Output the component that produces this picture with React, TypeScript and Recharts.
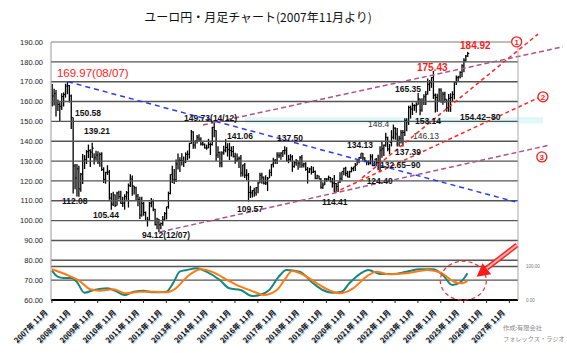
import {
  Bar,
  ComposedChart,
  Line,
  ReferenceArea,
  ReferenceDot,
  ReferenceLine,
  XAxis,
  YAxis,
} from "recharts";

// monthly bars, 2007-11 .. 2026-01
const HIGHS = [
  168.9, 166.5,
  165.8, 161.0, 159.6, 164.2, 164.6, 169.0, 169.97, 168.3, 163.5, 152.0, 128.5, 128.5,
  127.6, 124.0, 133.6, 133.0, 135.5, 138.3, 135.9, 139.21, 134.0, 135.2, 135.0, 134.3,
  134.4, 126.9, 124.6, 127.9, 125.5, 113.9, 114.6, 113.1, 114.5, 115.0, 115.0, 112.0,
  113.3, 114.9, 118.7, 123.3, 122.7, 117.6, 117.1, 113.4, 112.0, 112.0, 109.4, 104.6,
  101.9, 109.4, 111.4, 110.6, 106.0, 101.5, 100.8, 99.0, 102.3, 104.4, 107.0, 114.6,
  123.3, 127.7, 126.0, 130.8, 133.8, 131.9, 134.0, 132.3, 134.4, 135.3, 139.2, 145.7,
  145.0, 140.3, 143.2, 143.5, 142.0, 140.0, 138.9, 138.3, 141.2, 139.4, 147.3, 149.73,
  145.5, 137.5, 134.8, 134.9, 137.7, 141.06, 139.0, 139.2, 137.4, 137.6, 134.2, 133.8,
  132.3, 133.0, 128.2, 129.0, 125.9, 124.0, 117.5, 115.4, 116.5, 117.0, 119.6, 124.1,
  124.1, 122.2, 122.9, 122.0, 125.8, 128.5, 131.7, 131.1, 134.5, 134.4, 134.5, 135.5,
  137.5, 137.0, 133.1, 133.5, 133.0, 130.1, 131.1, 130.2, 132.5, 133.1, 129.2, 129.4,
  127.0, 126.6, 127.5, 127.2, 125.3, 123.1, 122.6, 121.5, 119.3, 121.5, 121.4, 122.7,
  122.0, 121.5, 123.0, 119.0, 119.5, 124.4, 124.8, 126.6, 127.1, 125.1, 125.1, 127.1,
  127.0, 129.0, 130.5, 132.0, 134.0, 134.13, 131.9, 130.3, 130.3, 133.5, 133.5, 130.1,
  131.6, 133.2, 137.5, 140.0, 138.3, 144.3, 142.3, 138.6, 145.6, 148.4, 147.1, 146.7,
  142.8, 145.6, 145.7, 151.6, 151.6, 157.9, 158.0, 159.5, 158.6, 159.7, 164.3, 161.5,
  161.6, 163.7, 165.35, 171.6, 170.8, 172.4, 175.43, 164.0, 163.9, 166.7, 166.7, 164.9,
  164.9, 161.2, 163.8, 164.2, 165.2, 169.8, 173.1, 173.0, 175.2, 178.8, 181.8, 183.5,
  184.92,
];
const LOWS = [
  157.5, 158.0,
  152.4, 155.2, 150.0, 155.7, 157.5, 162.0, 163.7, 159.5, 146.1, 113.6, 115.8, 112.1,
  112.08, 114.5, 118.5, 126.0, 128.5, 131.5, 127.0, 131.6, 128.3, 130.2, 128.5, 127.2,
  125.0, 119.0, 118.6, 123.0, 110.5, 105.44, 107.4, 106.9, 107.6, 110.7, 108.5, 106.8,
  105.5, 110.5, 106.6, 117.0, 112.5, 113.2, 110.1, 107.2, 100.8, 102.0, 102.5, 100.0,
  97.0, 100.0, 106.7, 104.7, 97.5, 95.6, 94.12, 95.7, 97.4, 100.0, 100.6, 106.0,
  113.2, 119.0, 118.5, 119.4, 125.7, 124.5, 127.8, 127.0, 129.0, 130.5, 131.3, 138.7,
  136.2, 136.2, 138.8, 139.6, 137.8, 137.7, 136.4, 135.7, 136.5, 133.1, 137.9, 142.0,
  130.1, 131.5, 126.9, 126.9, 133.2, 134.4, 132.3, 130.5, 132.3, 131.8, 128.7, 129.7,
  126.5, 122.1, 122.2, 121.5, 120.3, 109.57, 111.4, 111.6, 112.0, 112.5, 113.8, 118.9,
  118.6, 118.2, 117.9, 114.9, 121.4, 122.4, 126.8, 128.5, 128.5, 131.6, 130.7, 132.0,
  133.3, 129.9, 128.9, 129.7, 124.6, 126.6, 127.6, 125.6, 126.6, 126.6, 126.8, 125.1,
  118.7, 124.0, 123.2, 124.0, 120.8, 120.8, 120.8, 116.1, 115.9, 117.9, 119.6, 120.1,
  119.3, 116.6, 114.41, 114.4, 114.4, 119.0, 120.3, 122.9, 122.4, 121.8, 121.6, 124.3,
  124.9, 125.0, 127.9, 128.9, 131.0, 130.2, 129.4, 127.9, 127.9, 128.3, 127.4, 127.4,
  127.4, 125.4, 124.4, 131.7, 132.6, 137.2, 134.9, 133.4, 137.4, 140.9, 140.7, 137.39,
  137.4, 138.8, 137.4, 142.6, 145.0, 148.2, 151.4, 153.2, 155.3, 154.3, 158.4, 153.14,
  154.9, 158.2, 158.3, 163.5, 165.3, 166.9, 161.3, 154.42, 154.8, 159.9, 159.4, 158.4,
  159.4, 154.8, 154.8, 154.8, 159.9, 161.1, 168.3, 169.9, 171.6, 172.2, 174.8, 180.0,
  182.5,
];
const CLOSES = [
  162.8, 164.1,
  160.0, 158.5, 157.6, 162.5, 163.5, 167.8, 168.0, 162.8, 152.0, 127.5, 121.5, 126.1,
  116.0, 123.4, 130.0, 130.7, 134.7, 135.2, 134.5, 136.5, 131.7, 133.0, 129.7, 133.4,
  125.8, 120.8, 124.3, 124.4, 111.3, 108.3, 113.0, 107.5, 113.9, 112.2, 108.7, 108.8,
  112.1, 114.0, 117.6, 121.0, 117.5, 116.5, 112.4, 110.6, 102.8, 108.6, 104.1, 100.0,
  100.3, 108.8, 109.6, 105.7, 98.0, 100.8, 97.9, 98.6, 100.4, 103.5, 107.0, 113.7,
  123.3, 120.5, 120.6, 128.5, 130.2, 130.3, 130.3, 129.6, 133.4, 133.5, 138.9, 144.7,
  138.1, 140.3, 142.0, 141.1, 138.6, 138.5, 136.6, 136.6, 138.4, 138.3, 147.0, 145.3,
  133.1, 134.3, 129.0, 134.1, 135.5, 136.9, 135.7, 135.3, 134.8, 132.4, 130.3, 131.0,
  131.4, 124.0, 128.1, 122.9, 122.9, 114.2, 114.0, 115.2, 113.9, 116.6, 118.9, 122.9,
  121.9, 118.9, 119.0, 121.3, 124.3, 128.4, 130.3, 130.4, 133.0, 132.7, 134.0, 135.3,
  135.5, 130.1, 130.9, 132.1, 127.3, 129.2, 130.3, 128.9, 131.7, 128.0, 128.6, 125.8,
  124.5, 126.0, 124.4, 124.7, 121.2, 122.6, 120.9, 116.8, 117.9, 121.0, 121.0, 121.8,
  119.6, 118.9, 118.7, 117.2, 119.5, 121.1, 124.8, 126.4, 123.8, 122.0, 124.7, 126.2,
  127.1, 127.9, 129.9, 131.8, 134.0, 131.6, 130.3, 129.8, 129.0, 132.1, 127.8, 130.9,
  129.2, 129.0, 135.5, 136.2, 138.0, 142.0, 136.1, 139.3, 142.0, 146.6, 143.6, 140.4,
  141.5, 144.3, 144.4, 150.4, 149.8, 157.0, 156.2, 158.0, 157.9, 158.3, 161.3, 155.7,
  160.0, 162.4, 163.5, 168.7, 169.5, 172.0, 163.2, 162.0, 160.1, 165.8, 160.0, 163.7,
  161.2, 156.8, 161.6, 162.0, 163.6, 169.8, 172.0, 172.4, 174.7, 178.0, 180.8, 182.9,
  184.2,
];

// oscillator (0-100), sampled months
const TEAL_MONTHS = [0, 3, 6, 10, 13, 17, 22, 29, 34, 38, 43, 48, 53, 60, 64, 67, 71, 76, 81, 88, 93, 99, 105, 109, 114, 119, 123, 130, 137, 142, 147, 152, 156, 162, 166, 172, 179, 186, 193, 200, 205, 210, 214, 218];
const TEAL_VALUES = [87.5, 69.6, 65.7, 65.7, 54.6, 21.8, 29.9, 34.9, 24.8, 14.9, 24.8, 27.8, 23, 24.8, 54.6, 84.5, 89.6, 94.6, 84.5, 59.7, 34.9, 29.9, 11.9, 14.9, 29.9, 69.6, 89.6, 84.5, 49.9, 29.9, 21.8, 24.8, 49.9, 79.7, 89.6, 77.6, 77.6, 84.5, 91.6, 91.6, 74.6, 44.8, 51.6, 80];
const ORANGE_MONTHS = [0, 8, 15, 20, 25, 32, 39, 46, 53, 60, 65, 71, 78, 85, 92, 99, 106, 111, 118, 122, 126, 132, 139, 146, 151, 158, 165, 170, 177, 186, 197, 204, 211, 215, 218];
const ORANGE_VALUES = [91.6, 74.6, 54.6, 31.9, 27.8, 31.9, 20, 24.8, 24.8, 23, 34.9, 69.6, 91.6, 81.5, 59.7, 39.7, 24.8, 14.9, 29.9, 59.7, 86.5, 74.6, 49.9, 27.8, 20, 34.9, 69.6, 84.5, 76.7, 79.7, 89.6, 81.5, 54.6, 49.9, 57];

const TICK_LABELS = [
  "2007年 11月", "2008年 11月", "2009年 11月", "2010年 11月", "2011年 11月", "2012年 11月", "2013年 11月",
  "2014年 11月", "2015年 11月", "2016年 11月", "2017年 11月", "2018年 11月", "2019年 11月", "2020年 11月",
  "2021年 11月", "2022年 11月", "2023年 11月", "2024年 11月", "2025年 11月", "2026年 11月", "2027年 11月",
];
const PRICE_TICKS = [60, 70, 80, 90, 100, 110, 120, 130, 140, 150, 160, 170, 180, 190];
const GRID_LEVELS = [70, 80, 90, 100, 110, 120, 130, 140, 150, 160, 170, 180];
const MONTH_COUNT = 245;

// annotations in (month index, price)
const TREND_LINES = [
  { from: [8.4, 169.97], to: [243, 109.5], color: "#2a3cf2", dash: "5 4" },
  { from: [162.7, 121.5], to: [255, 194], color: "#ff2626", dash: "4 3" },
  { from: [148, 114.0], to: [256.1, 162.3], color: "#ff2626", dash: "4 3" },
  { from: [56.7, 94.3], to: [261.3, 138.1], color: "#ad5685", dash: "5 3" },
  { from: [79.2, 148.2], to: [268.1, 187.6], color: "#ad5685", dash: "5 3" },
];
const PRICE_NOTES = [
  { text: "169.97(08/07)", m: 2.6, p: 172.4, color: "#ff1a1a", size: 11.5, weight: "normal" },
  { text: "184.92", m: 214.1, p: 186.5, color: "#ff1a1a", size: 10, weight: "bold" },
  { text: "175.43", m: 191.5, p: 175.4, color: "#ff1a1a", size: 10, weight: "bold" },
  { text: "150.58", m: 12.1, p: 152.7, color: "#111", size: 8.5, weight: "bold" },
  { text: "139.21", m: 16.8, p: 143.6, color: "#111", size: 8.5, weight: "bold" },
  { text: "112.08", m: 5.3, p: 108.4, color: "#111", size: 8.5, weight: "bold" },
  { text: "105.44", m: 21.5, p: 101.3, color: "#111", size: 8.5, weight: "bold" },
  { text: "94.12(12/07)", m: 47.2, p: 91.0, color: "#111", size: 8.5, weight: "bold" },
  { text: "149.73(14/12)", m: 69.3, p: 150.2, color: "#111", size: 8.5, weight: "bold" },
  { text: "141.06", m: 91.8, p: 141.1, color: "#111", size: 8.5, weight: "bold" },
  { text: "137.50", m: 118.1, p: 139.9, color: "#111", size: 8.5, weight: "bold" },
  { text: "134.13", m: 154.8, p: 136.8, color: "#111", size: 8.5, weight: "bold" },
  { text: "148.4", m: 165.8, p: 147.2, color: "#333", size: 8.5, weight: "normal" },
  { text: "165.35", m: 180, p: 164.8, color: "#111", size: 8.5, weight: "bold" },
  { text: "153.14", m: 190.5, p: 148.7, color: "#111", size: 8.5, weight: "bold" },
  { text: "146.13", m: 189.4, p: 141.1, color: "#333", size: 8.5, weight: "normal" },
  { text: "154.42−80", m: 214.1, p: 150.7, color: "#111", size: 8.5, weight: "bold" },
  { text: "137.39", m: 180, p: 133.1, color: "#111", size: 8.5, weight: "bold" },
  { text: "132.65−90", m: 172.1, p: 126.3, color: "#111", size: 8.5, weight: "bold" },
  { text: "124.40", m: 165.1, p: 118.7, color: "#111", size: 8.5, weight: "bold" },
  { text: "109.57", m: 97.1, p: 104.1, color: "#111", size: 8.5, weight: "bold" },
  { text: "114.41", m: 141.7, p: 108.1, color: "#111", size: 8.5, weight: "bold" },
];
const CIRCLE_MARKS = [
  { text: "1", m: 243.8, p: 190.1 },
  { text: "2", m: 257.6, p: 162.4 },
  { text: "3", m: 257.0, p: 132.1 },
];
const ARROW_TAIL = [244.0, 87.7];
const ARROW_BASE = [228.1, 76.0];
const ARROW_TIP = [222.8, 71.7];
const FOCUS_RING = [215.8, 69.7];

const rows = Array.from({ length: MONTH_COUNT }, (_, i) => {
  const row: any = { idx: i };
  if (i < HIGHS.length) {
    row.high = HIGHS[i];
    row.low = LOWS[i];
    row.close = CLOSES[i];
    row.range = [LOWS[i], HIGHS[i]];
  }
  const t = TEAL_MONTHS.indexOf(i);
  if (t >= 0) row.teal = TEAL_VALUES[t];
  const o = ORANGE_MONTHS.indexOf(i);
  if (o >= 0) row.orange = ORANGE_VALUES[o];
  return row;
});

const FONT = '"Liberation Sans", Arial, sans-serif';
const JP = '"Noto Sans CJK JP", sans-serif';

function OhlcBar(props: any) {
  const { x, y, width, height, payload } = props;
  if (!payload || payload.high == null) return null;
  const top = Math.min(y, y + height);
  const h = Math.abs(height);
  const cx = x + width / 2;
  const cy = top + ((payload.high - payload.close) / (payload.high - payload.low)) * h;
  return (
    <g>
      <line x1={cx} x2={cx} y1={top} y2={top + h} stroke="#000" strokeWidth={1.3} />
      <line x1={cx} x2={cx + 1.6} y1={cy} y2={cy} stroke="#000" strokeWidth={1} />
    </g>
  );
}

function YearTick(props: any) {
  const { x, y, payload } = props;
  const label = TICK_LABELS[Math.round(payload.value / 12)];
  const tx = x - 4;
  const ty = y + 8;
  return (
    <g fontFamily={JP} fontSize={7.5} fontWeight="bold">
      <text x={tx + 1} y={ty + 1} transform={`rotate(-45 ${tx + 1} ${ty + 1})`} textAnchor="end" fill="#a9bfd6">
        {label}
      </text>
      <text x={tx} y={ty} transform={`rotate(-45 ${tx} ${ty})`} textAnchor="end" fill="#111">
        {label}
      </text>
    </g>
  );
}

export default function App() {
  return (
    <div style={{ position: "absolute", left: 0, top: 0, width: 567, height: 353, background: "#fff" }}>
      <div
        style={{
          position: "absolute",
          left: 0,
          top: 8,
          width: 516,
          textAlign: "center",
          fontFamily: JP,
          fontSize: 12,
          color: "#111",
        }}
      >
        ユーロ円・月足チャート(2007年11月より)
      </div>
      <ComposedChart
        width={567}
        height={353}
        data={rows}
        margin={{ top: 42, right: 20, bottom: 0, left: 0 }}
      >
        <XAxis
          dataKey="idx"
          type="category"
          interval={11}
          height={53}
          tick={<YearTick />}
          tickSize={3}
          tickLine={{ stroke: "#222" }}
          axisLine={{ stroke: "#000", strokeWidth: 2 }}
        />
        <XAxis xAxisId="n" dataKey="idx" type="number" domain={[-0.5, MONTH_COUNT - 0.5]} allowDataOverflow hide />
        <YAxis
          domain={[60, 190]}
          ticks={PRICE_TICKS}
          interval={0}
          width={51}
          tickFormatter={(v: number) => v.toFixed(2)}
          tick={{ fontSize: 7.5, fill: "#222", fontFamily: FONT }}
          tickLine={false}
          axisLine={{ stroke: "#999" }}
        />
        <YAxis
          yAxisId="osc"
          orientation="right"
          domain={[0, 770]}
          ticks={[0, 100]}
          interval={0}
          width={29}
          tickFormatter={(v: number) => v.toFixed(2)}
          tick={{ fontSize: 4.5, fill: "#777", fontFamily: FONT }}
          tickLine={false}
          axisLine={{ stroke: "#aaa" }}
        />

        <ReferenceArea
          xAxisId="n"
          x1={101.3}
          x2={257.6}
          y1={148.9}
          y2={152.2}
          fill="#e2f8f8"
          fillOpacity={1}
          stroke="none"
          ifOverflow="visible"
        />
        {GRID_LEVELS.map((v) => (
          <ReferenceLine key={v} y={v} stroke="#555" strokeWidth={1.4} />
        ))}
        <ReferenceLine y={190} stroke="#a8a8a8" strokeWidth={1.3} />
        <ReferenceLine yAxisId="osc" y={100} stroke="#555" strokeWidth={1.4} />

        <Bar dataKey="range" shape={<OhlcBar />} isAnimationActive={false} />
        <Line
          yAxisId="osc"
          dataKey="teal"
          type="monotone"
          stroke="#17877d"
          strokeWidth={2}
          dot={false}
          connectNulls
          isAnimationActive={false}
        />
        <Line
          yAxisId="osc"
          dataKey="orange"
          type="monotone"
          stroke="#ff7a12"
          strokeWidth={2}
          dot={false}
          connectNulls
          isAnimationActive={false}
        />

        {TREND_LINES.map((l, i) => (
          <ReferenceLine
            key={i}
            xAxisId="n"
            segment={[
              { x: l.from[0], y: l.from[1] },
              { x: l.to[0], y: l.to[1] },
            ]}
            stroke={l.color}
            strokeWidth={1.5}
            strokeDasharray={l.dash}
            ifOverflow="visible"
          />
        ))}

        <ReferenceLine
          xAxisId="n"
          segment={[
            { x: ARROW_TAIL[0], y: ARROW_TAIL[1] },
            { x: ARROW_BASE[0], y: ARROW_BASE[1] },
          ]}
          stroke="#ff2020"
          strokeWidth={5}
          ifOverflow="visible"
        />
        <ReferenceLine
          xAxisId="n"
          segment={[
            { x: ARROW_TAIL[0], y: ARROW_TAIL[1] },
            { x: ARROW_BASE[0], y: ARROW_BASE[1] },
          ]}
          stroke="#ffb3b3"
          strokeWidth={2}
          ifOverflow="visible"
        />
        <ReferenceDot
          xAxisId="n"
          x={ARROW_TIP[0]}
          y={ARROW_TIP[1]}
          r={1}
          ifOverflow="visible"
          shape={(p: any) => {
            const ux = -0.786;
            const uy = 0.618;
            const bx = p.cx - 13 * ux;
            const by = p.cy - 13 * uy;
            const pts = `${p.cx},${p.cy} ${bx + 7 * 0.618},${by + 7 * 0.786} ${bx - 7 * 0.618},${by - 7 * 0.786}`;
            return <polygon points={pts} fill="#ff1a1a" />;
          }}
        />
        <ReferenceDot
          xAxisId="n"
          x={FOCUS_RING[0]}
          y={FOCUS_RING[1]}
          r={1}
          ifOverflow="visible"
          shape={(p: any) => (
            <ellipse cx={p.cx} cy={p.cy} rx={23} ry={19.5} fill="none" stroke="#ff2a2a" strokeWidth={1.2} strokeDasharray="4 3" />
          )}
        />

        {PRICE_NOTES.map((n) => (
          <ReferenceDot
            key={n.text}
            xAxisId="n"
            x={n.m}
            y={n.p}
            r={1}
            ifOverflow="visible"
            shape={(p: any) => (
              <text x={p.cx} y={p.cy} fontFamily={FONT} fontSize={n.size} fontWeight={n.weight} fill={n.color}>
                {n.text}
              </text>
            )}
          />
        ))}
        {CIRCLE_MARKS.map((c) => (
          <ReferenceDot
            key={c.text}
            xAxisId="n"
            x={c.m}
            y={c.p}
            r={1}
            ifOverflow="visible"
            shape={(p: any) => (
              <g>
                <circle cx={p.cx} cy={p.cy} r={5} fill="#fff" stroke="#ff1a1a" strokeWidth={1.3} />
                <text x={p.cx} y={p.cy + 3} textAnchor="middle" fontFamily={FONT} fontSize={8} fontWeight="bold" fill="#ff1a1a">
                  {c.text}
                </text>
              </g>
            )}
          />
        ))}
      </ComposedChart>
      <div
        style={{
          position: "absolute",
          left: 503,
          top: 322,
          fontFamily: JP,
          fontSize: 6.2,
          lineHeight: "11px",
          color: "#888",
          whiteSpace: "nowrap",
        }}
      >
        作成:有限会社
        <br />
        フォレックス・ラジオ
      </div>
    </div>
  );
}
